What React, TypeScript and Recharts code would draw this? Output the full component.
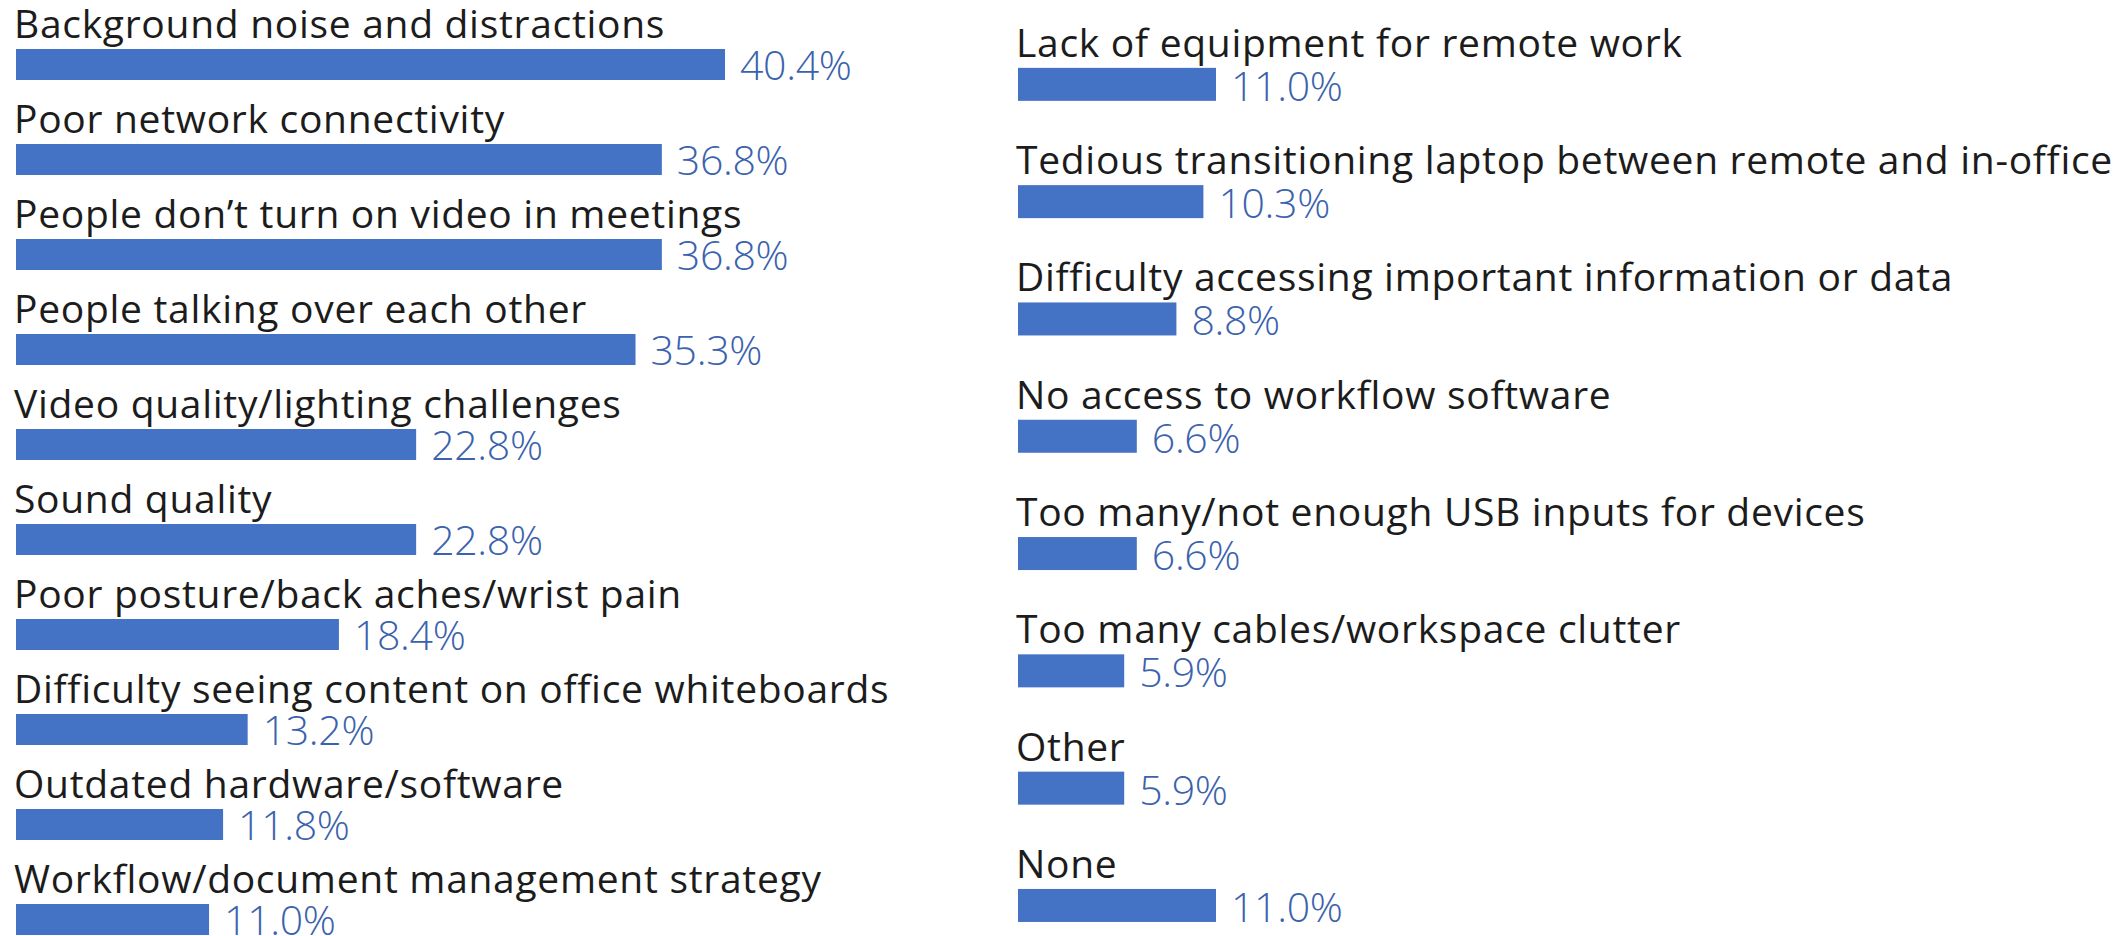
import React from "react";
import { BarChart, Bar, XAxis, YAxis } from "recharts";

const leftCategories = [
  "Background noise and distractions",
  "Poor network connectivity",
  "People don\u2019t turn on video in meetings",
  "People talking over each other",
  "Video quality/lighting challenges",
  "Sound quality",
  "Poor posture/back aches/wrist pain",
  "Difficulty seeing content on office whiteboards",
  "Outdated hardware/software",
  "Workflow/document management strategy",
];
const leftValues = [40.4, 36.8, 36.8, 35.3, 22.8, 22.8, 18.4, 13.2, 11.8, 11.0];

const rightCategories = [
  "Lack of equipment for remote work",
  "Tedious transitioning laptop between remote and in-office",
  "Difficulty accessing important information or data",
  "No access to workflow software",
  "Too many/not enough USB inputs for devices",
  "Too many cables/workspace clutter",
  "Other",
  "None",
];
const rightValues = [11.0, 10.3, 8.8, 6.6, 6.6, 5.9, 5.9, 11.0];

const leftData = leftCategories.map((name, i) => ({ name, value: leftValues[i] }));
const rightData = rightCategories.map((name, i) => ({ name, value: rightValues[i] }));

const BAR_COLOR = "#4472C4";
const VALUE_COLOR = "#3b62ad";
const LABEL_COLOR = "#1c1c1c";
const FONT = "'Open Sans', sans-serif";

const BarWithLabels = (props: any) => {
  const { x, y, width, height, payload, value } = props;
  const v = typeof value === "number" ? value : payload?.value;
  return (
    <g>
      <rect x={x} y={y} width={width} height={height} fill={BAR_COLOR} />
      <text
        x={x - 2}
        y={y - 11}
        fill={LABEL_COLOR}
        fontFamily={FONT}
        fontSize={39}
        letterSpacing={0.7}
      >
        {payload?.name}
      </text>
      <text
        x={x + width + 15}
        y={y + height}
        fill={VALUE_COLOR}
        fontFamily={FONT}
        fontSize={41}
        fontWeight={300}
        letterSpacing={-0.3}
      >
        {Number(v).toFixed(1) + "%"}
      </text>
    </g>
  );
};

export default function App() {
  return (
    <div
      style={{
        position: "absolute",
        left: 0,
        top: 0,
        width: 2118,
        height: 936,
        overflow: "hidden",
        background: "#ffffff",
      }}
    >
      <div style={{ position: "absolute", left: 0, top: 0 }}>
        <BarChart
          width={1000}
          height={1000}
          data={leftData}
          layout="vertical"
          margin={{ top: 17, right: 106.5, bottom: 33, left: 16 }}
        >
          <XAxis type="number" domain={[0, 50]} hide />
          <YAxis type="category" dataKey="name" hide />
          <Bar
            dataKey="value"
            barSize={31}
            isAnimationActive={false}
            shape={BarWithLabels}
          />
        </BarChart>
      </div>
      <div style={{ position: "absolute", left: 1000, top: 0 }}>
        <BarChart
          width={1118}
          height={1000}
          data={rightData}
          layout="vertical"
          margin={{ top: 25.85, right: 200, bottom: 35.75, left: 18 }}
        >
          <XAxis type="number" domain={[0, 50]} hide />
          <YAxis type="category" dataKey="name" hide />
          <Bar
            dataKey="value"
            barSize={33}
            isAnimationActive={false}
            shape={BarWithLabels}
          />
        </BarChart>
      </div>
    </div>
  );
}
